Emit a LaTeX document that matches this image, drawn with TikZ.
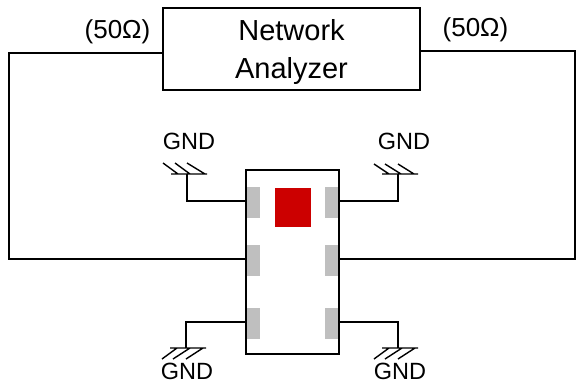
\documentclass[tikz,border=0pt]{standalone}
\usepackage{fontspec}
\setmainfont{Liberation Sans}
\begin{document}
\begin{tikzpicture}[x=1pt,y=-1pt,
  wire/.style={draw=black,line width=1.8pt,line join=miter},
  hatch/.style={draw=black,line width=1.4pt},
  boxnode/.style={draw=black,line width=1.8pt,inner sep=0pt,outer sep=0pt,anchor=north west},
  pad/.style={fill=black!25,draw=none,inner sep=0pt,outer sep=0pt,anchor=north west,minimum width=14pt,minimum height=31pt},
  lab/.style={inner sep=0pt,font=\fontsize{23.5}{28}\selectfont,anchor=base},
  ohm/.style={inner sep=0pt,font=\fontsize{26}{28}\selectfont,anchor=base}]
\useasboundingbox (0,0) rectangle (576,384);
\node[boxnode,minimum width=257pt,minimum height=82pt] (analyzer) at (163,8) {};
\node[inner sep=0pt,align=center,font=\fontsize{29}{38}\selectfont,yshift=-3pt] (analyzertext) at (analyzer.center) {Network\\Analyzer};
\node[pad] (p1) at (246,187) {};
\node[pad] (p2) at (246,245) {};
\node[pad] (p3) at (246,308) {};
\node[pad] (p4) at (325,187) {};
\node[pad] (p5) at (325,245) {};
\node[pad] (p6) at (325,308) {};
\node[boxnode,minimum width=93pt,minimum height=184pt] (chip) at (246,170) {};
\node[fill={rgb,255:red,204;green,0;blue,0},inner sep=0pt,outer sep=0pt,anchor=north west,minimum width=36pt,minimum height=39pt] (die) at (275,188) {};
\node[ohm] (zl) at (117.5,38) {(50Ω)};
\node[ohm] (zr) at (475.5,36.5) {(50Ω)};
\node[lab] (g1) at (189,149) {GND};
\node[lab] (g2) at (404,149) {GND};
\node[lab] (g3) at (187,379) {GND};
\node[lab] (g4) at (400,379) {GND};
\coordinate (al) at (163,53);
\coordinate (ar) at (420,51);
\coordinate (c1) at (9,53);
\coordinate (c2) at (9,259);
\coordinate (c3) at (575,51);
\coordinate (c4) at (575,259);
\coordinate (t1) at (187,174);
\coordinate (t2) at (398,174);
\coordinate (b1) at (186,348);
\coordinate (b2) at (398,348);
\coordinate (w1) at (246,201);
\coordinate (w2) at (339,201);
\coordinate (w3) at (246,322);
\coordinate (w4) at (339,322);
\draw[wire] (al) -- (c1) -- (c2) -- (chip.west |- c2);
\draw[wire] (ar) -- (c3) -- (c4) -- (chip.east |- c4);
\draw[wire] (t1) |- (w1);
\draw[wire] (t2) |- (w2);
\draw[wire] (b1) |- (w3);
\draw[wire] (b2) |- (w4);
\draw[hatch] (171,174) -- (207,174) (163,163) -- (178,174) (175,163) -- (190,174) (187,163) -- (205,174);
\draw[hatch] (382,174) -- (418,174) (374,164) -- (389,174) (385,164) -- (401,174) (398,164) -- (414,174);
\draw[hatch] (170,348) -- (206,348) (162,359) -- (177,348) (173,359) -- (190,348) (186,359) -- (203,348);
\draw[hatch] (382,348) -- (418,348) (374,359) -- (389,348) (385,359) -- (402,348) (398,359) -- (415,348);
\end{tikzpicture}
\end{document}
